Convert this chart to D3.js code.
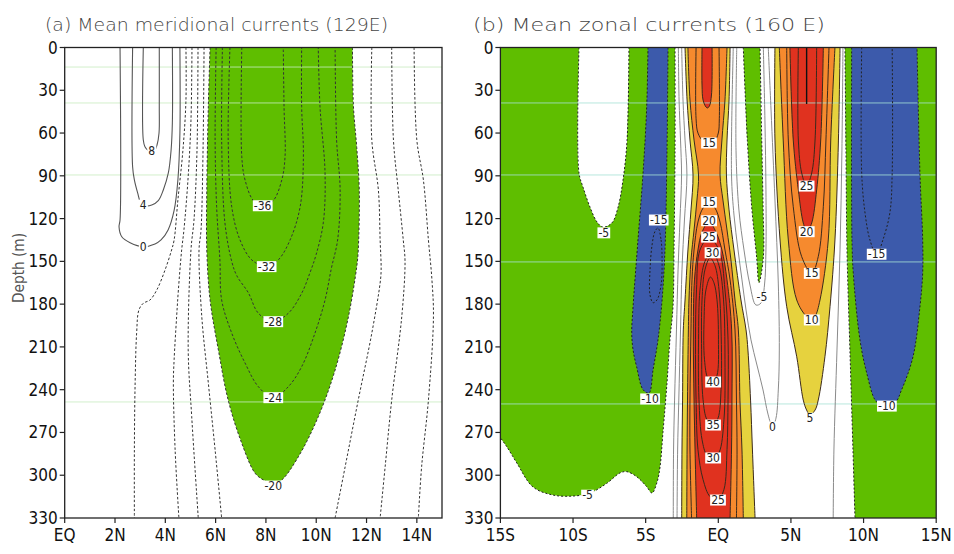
<!DOCTYPE html>
<html><head><meta charset="utf-8">
<script src="https://cdn.jsdelivr.net/npm/d3@7"></script>
<style>body{margin:0;background:#fff}</style>
</head><body>
<svg id="c" width="954" height="554"></svg>
<script>
// ---------- ticks ----------
const depthTicks = [0,30,60,90,120,150,180,210,240,270,300,330];
const latTicksA = [0,2,4,6,8,10,12,14];
const latLabelsA = ["EQ","2N","4N","6N","8N","10N","12N","14N"];
const latTicksB = [-15,-10,-5,0,5,10,15];
const latLabelsB = ["15S","10S","5S","EQ","5N","10N","15N"];
const titleA = "(a) Mean meridional currents (129E)";
const titleB = "(b) Mean zonal currents (160 E)";
const faintDepthsA = [13.7, 38.9, 89.4, 248.6];
const faintDepthsB = [38.9, 89.4, 150.4, 250];

// ---------- panel (a): meridional current contours [lat, depth] ----------
const a_p8 = [[3.125,0],[3.125,64.9],[3.19,69.6],[3.33,72.4],[3.46,73],[3.58,72],[3.67,68.4],[3.75,60],[3.76,41.5],[3.76,0]];
const a_p4 = [[2.70,0],[2.70,83.6],[2.77,92.9],[2.90,102],[3.03,109.1],[3.2,111],[3.46,110.5],[3.72,107.4],[3.92,99.9],[4.12,88],[4.23,71.9],[4.28,53],[4.28,0]];
const a_z0 = [[2.20,0],[2.20,121],[2.16,125.7],[2.27,132.7],[2.60,136.9],[3.125,139.7],[3.59,137.8],[3.83,135],[4.11,128],[4.35,114.3],[4.50,92.9],[4.58,60],[4.58,0]];
const a_n4 = [[4.82,0],[4.82,37],[4.70,72],[4.50,107],[4.35,135],[4.25,142],[3.99,156],[3.66,170.1],[3.39,177.1],[3.125,179.4],[2.95,184.1],[2.86,200.3],[2.80,235.3],[2.77,282.3],[2.77,330]];
const a_n8 = [[5.06,0],[5.02,51],[4.90,93],[4.74,128],[4.65,142],[4.52,170],[4.45,188.8],[4.35,219],[4.32,235.3],[4.39,282.3],[4.54,330]];
const a_n12 = [[5.30,0],[5.26,72],[5.14,121],[5.02,142],[4.91,212],[5.05,259],[5.31,330]];
const a_n16 = [[5.54,0],[5.50,72],[5.42,128],[5.34,142],[5.45,188.8],[5.71,235.3],[5.98,282.3],[6.24,330]];
const a_n20 = [[5.78,0],[5.71,41.5],[5.65,100],[5.65,142],[5.78,177.1],[6.11,212.2],[6.50,247.3],[7.04,277.6],[7.57,298.6],[7.90,303.3],[8.29,306],[8.63,303.3],[9.29,287],[10.08,259],[10.75,226.2],[11.28,188.8],[11.61,153.7],[11.67,142],[11.71,100],[11.61,70],[11.48,41.5],[11.44,0]];
const a_n24 = [[6.02,0],[5.98,64.9],[6.04,111.7],[6.17,149],[6.24,177.1],[6.64,200.3],[7.17,221.3],[7.70,237.9],[8.29,245.6],[8.89,237.9],[9.42,223.9],[9.95,200.3],[10.35,177.1],[10.60,155],[10.85,135],[10.95,100],[10.81,65],[10.75,0]];
const a_n28 = [[6.27,0],[6.24,65],[6.37,123],[6.64,150],[6.84,160],[7.30,172],[7.70,186.4],[8.29,192.3],[8.89,186.4],[9.42,172.4],[9.75,158],[10.0,145],[10.28,123],[10.35,88],[10.15,41.5],[10.08,0]];
const a_n32 = [[6.57,0],[6.50,65],[6.64,111.7],[6.97,135],[7.44,149],[8.03,153.7],[8.49,149],[8.96,135],[9.36,111.7],[9.49,76.6],[9.42,41.5],[9.42,0]];
const a_n36 = [[7.04,0],[7.04,76.6],[7.17,92.9],[7.50,107.4],[7.87,111],[8.29,107.4],[8.63,92.9],[8.76,76.6],[8.72,41.5],[8.69,0]];
const a_n16r = [[12.21,0],[12.21,65],[12.47,99.9],[12.54,135],[12.58,156],[12.54,165.2],[12.21,200.3],[11.67,247.3],[11.15,294],[10.75,330]];
const a_n12r = [[13.00,0],[13.07,65],[13.26,99.9],[13.46,135],[13.53,150],[13.40,188.8],[13.00,247.3],[12.74,294],[12.54,330]];
const a_n8r = [[13.89,0],[14.00,65],[14.26,92.9],[14.46,135],[14.60,163],[14.66,188.8],[14.46,247.3],[14.19,294],[14.06,330]];
const a_labels = [
 {t:"8",lat:3.46,d:72.6},{t:"4",lat:3.125,d:110.5},{t:"0",lat:3.125,d:139.7},
 {t:"-36",lat:7.87,d:111},{t:"-32",lat:8.03,d:153.7},{t:"-28",lat:8.29,d:192.3},
 {t:"-24",lat:8.29,d:245.6},{t:"-20",lat:8.29,d:307.6}];

// ---------- panel (b): zonal current contours [lat, depth] ----------
const b_greenLeft = [[-2.98,0],[-2.98,72],[-3.05,142],[-3.12,182],[-3.33,205],[-3.53,235],[-3.81,270],[-4.01,294],[-4.22,305],[-4.56,312.5],[-4.93,308],[-5.62,301],[-6.30,297.5],[-6.77,298.4],[-7.68,305.7],[-8.83,312.5],[-10,314.6],[-11.38,313.9],[-12.75,308.3],[-13.87,291.4],[-14.56,280],[-15,273.7]];
const b_hole = [[-9.59,0],[-9.59,88],[-9.31,98],[-8.83,112],[-8.35,122.4],[-7.94,126],[-7.32,123],[-6.90,112],[-6.56,93],[-6.28,65],[-6.15,0]];
const b_blue5S = [[-4.84,0],[-4.93,41.7],[-5.18,88],[-5.53,135],[-5.87,182],[-5.96,200],[-5.87,212],[-5.62,224],[-5.18,240],[-4.77,242.3],[-4.49,226],[-4.15,205],[-3.87,177],[-3.67,142],[-3.53,72],[-3.46,0]];
const b_m15_5S = [[-4.15,126.6],[-3.94,135],[-3.87,149],[-3.94,166.6],[-4.22,177],[-4.49,179],[-4.70,173.6],[-4.70,156],[-4.56,138.5],[-4.36,129]];
const b_greenPatch = [[1.72,0],[2.00,65],[2.30,112],[2.64,147],[2.80,165],[3.10,147],[3.08,112],[2.99,65],[2.87,0]];
const b_greenRight = [[8.72,0],[8.79,72],[8.86,142],[9.06,212],[9.27,282],[9.41,330]];
const b_blue10N = [[9.18,0],[9.20,135],[9.29,158],[9.75,205],[10.21,228],[10.78,247],[11.13,250],[12.16,249],[12.62,240],[13.40,217],[13.88,182],[14.07,158],[14.07,135],[13.88,88],[13.68,0]];
const b_m15_10N = [[9.87,0],[9.87,88],[10.10,116],[10.44,135],[10.9,145.5],[11.33,135],[11.81,116],[11.97,88],[11.97,0]];
// equatorial jet
const b_e5L = [[-2.29,0],[-2.15,36.8],[-1.95,64.9],[-1.74,89.4],[-1.88,113.9],[-2.09,142],[-2.29,177.1],[-2.41,198.1],[-2.46,247.3],[-2.50,282.3],[-2.52,330]];
const b_e5R = [[0.81,0],[0.74,36.8],[0.60,64.9],[0.56,89.4],[0.74,113.9],[1.08,142],[1.56,177.1],[1.91,198.1],[2.04,212.2],[2.22,247.3],[2.35,282.3],[2.53,330]];
const b_e10L = [[-2.09,0],[-1.95,36.8],[-1.67,64.9],[-1.36,89.4],[-1.47,107],[-1.67,128],[-1.88,149],[-2.02,177.1],[-2.06,198.1],[-2.12,247.3],[-2.15,282.3],[-2.17,330]];
const b_e10R = [[0.60,0],[0.46,36.8],[0.25,64.9],[0.12,89.4],[0.32,107],[0.60,128],[0.87,149],[1.15,177.1],[1.38,198.1],[1.49,247.3],[1.63,282.3],[1.72,330]];
const b_e15U = [[-1.53,0],[-1.53,50],[-1.40,60],[-1.05,65.5],[-0.64,67],[-0.25,65.5],[0.0,60],[0.07,50],[0.05,0]];
const b_e20U = [[-1.12,0],[-1.12,26.3],[-1.05,36.8],[-0.85,41.7],[-0.74,42.4],[-0.61,41],[-0.47,33.3],[-0.43,0]];
const b_e15L = [[-1.84,330],[-1.95,282.3],[-1.95,247.3],[-1.88,198.1],[-1.81,163],[-1.67,142],[-1.40,122.4],[-1.05,112.6],[-0.64,109],[-0.23,112.6],[0.12,122.4],[0.46,142],[0.81,163],[1.15,198.1],[1.25,247.3],[1.29,282.3],[1.25,330]];
const b_e20L = [[-1.49,330],[-1.60,282.3],[-1.67,247.3],[-1.72,198.1],[-1.64,163],[-1.40,142],[-1.12,129.4],[-0.64,122.4],[-0.16,129.4],[0.25,142],[0.60,163],[0.92,198.1],[0.94,247.3],[0.91,282.3],[0.81,330]];
const b_e25 = [[-0.64,133.6],[-1.26,142],[-1.50,170],[-1.57,205],[-1.53,247],[-1.40,282],[-1.05,303],[-0.57,315],[-0.02,317.4],[0.39,310],[0.60,282],[0.67,247],[0.67,205],[0.46,170],[0.05,142]];
const b_e30 = [[-0.43,142.7],[-0.92,150],[-1.26,170],[-1.36,205],[-1.33,247],[-1.12,275],[-0.78,286],[-0.37,288],[0.05,284],[0.39,261],[0.46,219],[0.36,177],[0.05,153]];
const b_e35 = [[-0.57,147.6],[-0.92,156],[-1.12,177],[-1.15,212],[-1.05,247],[-0.78,261],[-0.37,265],[-0.02,260],[0.19,240],[0.19,198],[0.05,170],[-0.23,153]];
const b_e40 = [[-0.54,161],[-0.85,170],[-0.98,191],[-0.95,219],[-0.71,232],[-0.37,234.6],[-0.09,230],[0.01,205],[-0.09,177],[-0.30,165]];
// thin grey lines
const b_g1 = [[-2.75,0],[-2.70,36.8],[-2.60,64.9],[-2.53,89.4],[-2.64,121],[-2.77,156],[-2.88,198.1],[-3.01,247.3],[-3.08,282.3],[-3.10,330]];
const b_g2 = [[-2.52,0],[-2.43,36.8],[-2.29,64.9],[-2.16,89.4],[-2.33,121],[-2.50,156],[-2.60,198.1],[-2.72,247.3],[-2.80,282.3],[-2.84,330]];
const b_z0 = [[1.03,0],[0.91,89.4],[1.08,117.5],[1.36,142],[1.63,163],[1.91,184.1],[2.25,205.1],[2.66,222.7],[3.08,240.2],[3.42,257.1],[3.73,266.2],[3.97,260],[4.13,240.2],[4.20,212.2],[4.13,165.2],[3.90,107],[3.63,43.8],[3.44,0]];
const b_zin = [[1.27,0],[1.22,72],[1.42,114],[1.77,142],[2.18,166.6],[2.59,180.6],[2.94,179.2],[3.18,166.6],[3.28,142],[3.28,99.9],[3.21,50.9],[3.10,0]];
const b_z0r = [[8.58,0],[8.51,72],[8.38,142],[8.17,212.2],[7.96,282.3],[7.91,330]];
// 5N jet
const b_n5 = [[3.90,0],[3.90,64.9],[4.25,135],[4.71,181.8],[5.40,216.9],[5.85,247.3],[6.08,254.3],[6.31,257.8],[6.66,254.3],[6.88,247.3],[7.34,216.9],[7.69,181.8],[8.03,135],[8.27,64.9],[8.38,0]];
const b_n10 = [[4.20,0],[4.47,64.9],[4.82,135],[5.40,177.1],[6.08,188.8],[6.43,191],[6.66,188.8],[7.00,177.1],[7.57,135],[7.74,64.9],[8.03,0]];
const b_n15 = [[4.71,0],[4.82,64.9],[5.16,111.7],[5.74,146.7],[6.43,158.4],[6.88,146.7],[7.23,111.7],[7.41,64.9],[7.62,0]];
const b_n20 = [[4.93,0],[5.16,64.9],[5.51,99.9],[5.85,123.1],[6.11,129.5],[6.43,123.1],[6.77,99.9],[7.05,64.9],[7.23,0]];
const b_n25 = [[5.51,0],[5.51,64.9],[5.74,88],[6.08,97.1],[6.43,88],[6.66,64.9],[6.77,0]];
const b_n30 = [[6.08,0],[6.08,39.6]];
const b_labels = [
 {t:"15",lat:-0.64,d:67},{t:"15",lat:-0.64,d:108.5},{t:"20",lat:-0.64,d:121.5},{t:"25",lat:-0.64,d:133},
 {t:"30",lat:-0.40,d:144},{t:"40",lat:-0.36,d:234.6},{t:"35",lat:-0.36,d:264.8},{t:"30",lat:-0.36,d:287.9},
 {t:"25",lat:-0.02,d:317.4},{t:"25",lat:6.08,d:97.2},{t:"20",lat:6.08,d:129.2},{t:"15",lat:6.43,d:158.4},
 {t:"10",lat:6.43,d:191.1},{t:"5",lat:6.31,d:260},{t:"0",lat:3.73,d:266.2},{t:"-5",lat:-7.88,d:130},
 {t:"-15",lat:-4.1,d:121},{t:"-10",lat:-4.7,d:246.5},{t:"-5",lat:-9.0,d:314},{t:"-5",lat:3.0,d:175},
 {t:"-15",lat:10.9,d:145},{t:"-10",lat:11.6,d:251.5}];

// ---------- drawing ----------
const GREEN="#5fbe00", BLUE="#3c5aab", YELLOW="#e6d23e", ORANGE="#f68a2e", RED="#e0321f";
const svg = d3.select("#c");
const y = d3.scaleLinear().domain([0,330]).range([47.5,518]);
const xA = d3.scaleLinear().domain([0,15]).range([64.7,442]);
const xB = d3.scaleLinear().domain([-15,15]).range([500.4,936.2]);
const numFont = "'Liberation Sans Narrow','DejaVu Sans Condensed',sans-serif";

function lineFn(xs, closed){
  return d3.line().x(d=>xs(d[0])).y(d=>y(d[1])).curve(closed?d3.curveCatmullRomClosed.alpha(0.5):d3.curveCatmullRom.alpha(0.5));
}
function P(xs, pts){ return lineFn(xs,false)(pts); }
function PC(xs, pts){ return lineFn(xs,true)(pts); }
function twoBranch(xs, L, R){ return P(xs,L) + P(xs,R.slice().reverse()).replace(/^M/,"L") + "Z"; }

function makePanel(id, xs){
  const x0=xs.range()[0], x1=xs.range()[1], y0=y.range()[0], y1=y.range()[1];
  svg.append("clipPath").attr("id",id).append("rect").attr("x",x0).attr("y",y0).attr("width",x1-x0).attr("height",y1-y0);
  return svg.append("g").attr("clip-path",`url(#${id})`);
}
function fill(g, d, c){ g.append("path").attr("d",d).attr("fill",c).attr("stroke","none"); }
function stroke(g, d, c, w, dash){ const p=g.append("path").attr("d",d).attr("fill","none").attr("stroke",c).attr("stroke-width",w); if(dash) p.attr("stroke-dasharray",dash); }
function addLabel(g, xs, o, fs){
  const t = g.append("text").attr("x",xs(o.lat)).attr("y",y(o.d)).attr("text-anchor","middle")
    .attr("dominant-baseline","central").style("font-family",numFont).style("font-size",fs+"px").attr("fill","#222").text(o.t);
  const b = t.node().getBBox();
  g.insert("rect",()=>t.node()).attr("x",b.x-1).attr("y",b.y+1.5).attr("width",b.width+2).attr("height",b.height-3).attr("fill","#fff");
}
function faint(g, xs, depths, col){
  depths.forEach(d=>g.append("line").attr("x1",xs.range()[0]).attr("x2",xs.range()[1]).attr("y1",y(d)).attr("y2",y(d)).attr("stroke",col).attr("stroke-width",1).attr("opacity",0.8));
}
function axes(xs, ticks, labels){
  const x0=xs.range()[0], x1=xs.range()[1], y0=y.range()[0], y1=y.range()[1];
  const g = svg.append("g");
  g.append("rect").attr("x",x0).attr("y",y0).attr("width",x1-x0).attr("height",y1-y0).attr("fill","none").attr("stroke","#222").attr("stroke-width",1.3);
  depthTicks.forEach(d=>{
    g.append("line").attr("x1",x0-5).attr("x2",x0).attr("y1",y(d)).attr("y2",y(d)).attr("stroke","#222").attr("stroke-width",1.2);
    g.append("text").attr("x",x0-7).attr("y",y(d)).attr("dominant-baseline","central").attr("text-anchor","end")
     .style("font-family",numFont).style("font-size","17px").attr("fill","#111").text(d);
  });
  ticks.forEach((t,i)=>{
    g.append("line").attr("x1",xs(t)).attr("x2",xs(t)).attr("y1",y1).attr("y2",y1+5).attr("stroke","#222").attr("stroke-width",1.2);
    g.append("text").attr("x",xs(t)).attr("y",541).attr("text-anchor","middle")
     .style("font-family",numFont).style("font-size","17px").attr("fill","#111").text(labels[i]);
  });
}

// ---- panel a ----
{
  const g = makePanel("clipA", xA);
  fill(g, P(xA,a_n20)+"Z", GREEN);
  faint(g, xA, faintDepthsA, "#c8ecc0");
  [a_p8,a_p4,a_z0].forEach(c=>stroke(g,P(xA,c),"#555",1.1));
  [a_n4,a_n8,a_n12,a_n16,a_n20,a_n24,a_n28,a_n32,a_n36,a_n16r,a_n12r,a_n8r].forEach(c=>stroke(g,P(xA,c),"#333",1,"2.5,2"));
  a_labels.forEach(o=>addLabel(g,xA,o,12));
  axes(xA, latTicksA, latLabelsA);
}
// ---- panel b ----
{
  const g = makePanel("clipB", xB);
  fill(g, P(xB,b_greenLeft)+`L${xB(-15)},${y(0)}Z`, GREEN);
  fill(g, P(xB,b_hole)+"Z", "#fff");
  fill(g, P(xB,b_greenPatch)+"Z", GREEN);
  fill(g, P(xB,b_greenRight)+`L${xB(15)},${y(330)}L${xB(15)},${y(0)}Z`, GREEN);
  fill(g, P(xB,b_blue5S)+"Z", BLUE);
  fill(g, P(xB,b_blue10N)+"Z", BLUE);
  fill(g, twoBranch(xB,b_e5L,b_e5R), YELLOW);
  fill(g, twoBranch(xB,b_e10L,b_e10R), ORANGE);
  fill(g, P(xB,b_e20U)+"Z", RED);
  fill(g, P(xB,b_e20L)+"Z", RED);
  fill(g, P(xB,b_n5)+"Z", YELLOW);
  fill(g, P(xB,b_n10)+"Z", ORANGE);
  fill(g, P(xB,b_n20)+"Z", RED);
  faint(g, xB, faintDepthsB, "#a8e2d6");
  [b_g1,b_g2,b_z0,b_zin,b_z0r].forEach(c=>stroke(g,P(xB,c),"#8a8a8a",1));
  [b_e5L,b_e5R,b_e10L,b_e10R,b_e15U,b_e20U,b_e15L,b_e20L,b_n5,b_n10,b_n15,b_n20,b_n25].forEach(c=>stroke(g,P(xB,c),"#3b2a1c",1));
  [b_e25,b_e30,b_e35,b_e40].forEach(c=>stroke(g,PC(xB,c),"#3b2a1c",1));
  stroke(g,P(xB,b_n30),"#111",1.4);
  [b_greenLeft,b_hole,b_greenPatch,b_greenRight,b_blue5S,b_blue10N,b_m15_10N].forEach(c=>stroke(g,P(xB,c),"#222",1,"2,2"));
  stroke(g,PC(xB,b_m15_5S),"#222",1,"2,2");
  b_labels.forEach(o=>addLabel(g,xB,o,12));
  axes(xB, latTicksB, latLabelsB);
}
// ---- titles ----
const tf = "'DejaVu Sans',sans-serif";
svg.append("text").attr("x",45).attr("y",31).attr("textLength",343).attr("lengthAdjust","spacingAndGlyphs")
  .style("font-family",tf).style("font-size","17px").style("font-weight",200).attr("fill","#444").text(titleA);
svg.append("text").attr("x",473).attr("y",31).attr("textLength",352).attr("lengthAdjust","spacingAndGlyphs")
  .style("font-family",tf).style("font-size","17px").style("font-weight",200).attr("fill","#444").text(titleB);
svg.append("text").attr("transform","translate(24,268) rotate(-90)").attr("text-anchor","middle")
  .attr("textLength",70).attr("lengthAdjust","spacingAndGlyphs")
  .style("font-family",tf).style("font-size","16px").attr("fill","#555").text("Depth (m)");
</script></body></html>
